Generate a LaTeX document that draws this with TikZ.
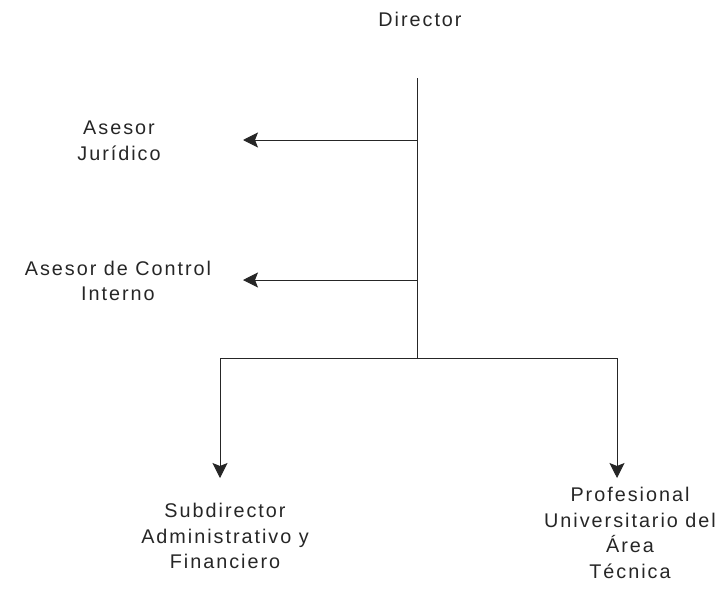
\documentclass[tikz,border=0pt]{standalone}
\usepackage{fontspec}
\setmainfont[LetterSpace=10]{Liberation Sans}
\usetikzlibrary{arrows.meta}
\begin{document}
\begin{tikzpicture}[x=1pt,y=-1pt,
  lbl/.style={align=center,inner sep=0pt,font=\fontsize{19.8}{25.5}\selectfont,text=black!85},
  conn/.style={line width=1pt,draw=black!85},
  arr/.style={conn,-{Stealth[length=15pt,width=15pt,inset=3pt]}}]
\useasboundingbox (0,0) rectangle (717,594);
\node[lbl] (dir) at (420,19) {Director};
\node[lbl] (aj) at (119,141) {Asesor\\Jurídico};
\node[lbl] (aci) at (118,281) {Asesor de Control\\Interno};
\node[lbl] (sub) at (225,536) {Subdirector\\Administrativo y\\Financiero};
\node[lbl] (pro) at (630,533) {Profesional\\Universitario del\\Área\\Técnica};
\coordinate (top) at (417,78);
\coordinate (j1) at (417,140);
\coordinate (j2) at (417,280);
\coordinate (j3) at (417,358);
\coordinate (t1) at (243,140);
\coordinate (t2) at (243,280);
\coordinate (l) at (220,358);
\coordinate (r) at (617,358);
\coordinate (lt) at (220,478);
\coordinate (rt) at (617,478);
\draw[conn] (top) -- (j3);
\draw[arr] (j1) -- (t1);
\draw[arr] (j2) -- (t2);
\draw[conn] (l) -- (r);
\draw[arr] (l) -- (lt);
\draw[arr] (r) -- (rt);
\end{tikzpicture}
\end{document}
